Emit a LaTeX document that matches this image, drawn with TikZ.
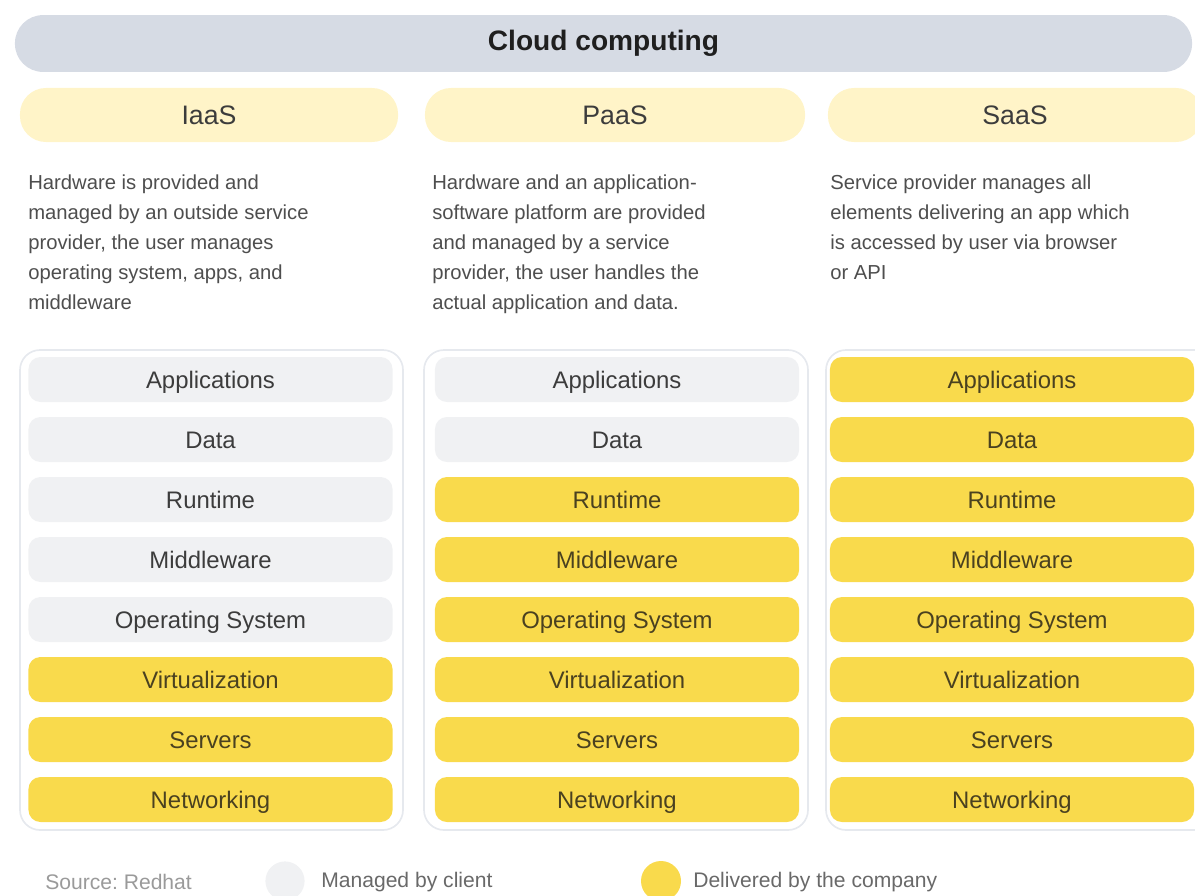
\documentclass[tikz,border=0pt]{standalone}
\usepackage{fontspec}
\setmainfont{Liberation Sans}
\usepackage{xcolor}
\usepackage{tikz}
\definecolor{CCBanner}{HTML}{D6DBE4}
\definecolor{CCHead}{HTML}{FFF4C8}
\definecolor{CCGrey}{HTML}{F0F1F3}
\definecolor{CCYellow}{HTML}{F9DA4C}
\definecolor{CCFrame}{HTML}{E6E9EE}
\definecolor{CCInk}{HTML}{3C3C3C}
\definecolor{CCOlive}{HTML}{4A4120}
\definecolor{CCSoft}{HTML}{4E4E4E}
\definecolor{CCFaint}{HTML}{9A9A9A}

\tikzset{
  layer/.style={rounded corners=0.3cm, minimum width=9.1cm, minimum height=1.125cm,
    inner sep=0pt, text height=12.2pt, text depth=0pt, font=\fontsize{17}{20}\selectfont},
  client/.style={layer, fill=CCGrey, text=CCInk},
  company/.style={layer, fill=CCYellow, text=CCOlive},
  model/.style={fill=CCHead, rounded corners=0.65cm, minimum height=1.35cm,
    inner sep=0pt, text height=13.6pt, text depth=0pt, text=CCInk, font=\fontsize{19}{22}\selectfont},
  blurb/.style={anchor=north west, inner sep=0pt, align=left, text=CCSoft,
    font=\fontsize{14.4}{21.3}\selectfont},
  keytext/.style={anchor=west, inner sep=0pt, text=CCSoft!85, font=\fontsize{15}{18}\selectfont},
  frame/.style={draw=CCFrame, line width=1.2pt, rounded corners=0.5cm}
}

\begin{document}
\frenchspacing
\begin{tikzpicture}[x=0.025cm,y=-0.025cm]
\path[use as bounding box] (0,0) rectangle (1195,895);
% title banner
\node[fill=CCBanner, rounded corners=0.7cm, minimum width=29.42cm, minimum height=1.42cm,
  inner sep=0pt, font=\fontsize{20}{24}\selectfont\bfseries, text=black!88] (title) at (603.5,43.5) {Cloud computing};
% service models
\node[model, minimum width=9.45cm] (iaas) at (209,115) {IaaS};
\node[model, minimum width=9.5cm] (paas) at (615,115) {PaaS};
\node[model, minimum width=9.35cm] (saas) at (1015,115) {SaaS};
\node[blurb] (iaasText) at (28,175) {Hardware is provided and\\managed by an outside service\\provider, the user manages\\operating system, apps, and\\middleware};
\node[blurb] (paasText) at (432,175) {Hardware and an application-\\software platform are provided\\and managed by a service\\provider, the user handles the\\actual application and data.};
\node[blurb] (saasText) at (830,175) {Service provider manages all\\elements delivering an app which\\is accessed by user via browser\\or API};
% stacks
\draw[frame] (20,350) rectangle (403,830);
\draw[frame] (424,350) rectangle (808,830);
\draw[frame] (826,350) rectangle (1215,830);
\node[client] (iaasApp) at (210.5,379.5) {Applications};
\node[client] (iaasData) at (210.5,439.5) {Data};
\node[client] (iaasRun) at (210.5,499.5) {Runtime};
\node[client] (iaasMid) at (210.5,559.5) {Middleware};
\node[client] (iaasOS) at (210.5,619.5) {Operating System};
\node[company] (iaasVirt) at (210.5,679.5) {Virtualization};
\node[company] (iaasSrv) at (210.5,739.5) {Servers};
\node[company] (iaasNet) at (210.5,799.5) {Networking};
\node[client] (paasApp) at (617,379.5) {Applications};
\node[client] (paasData) at (617,439.5) {Data};
\node[company] (paasRun) at (617,499.5) {Runtime};
\node[company] (paasMid) at (617,559.5) {Middleware};
\node[company] (paasOS) at (617,619.5) {Operating System};
\node[company] (paasVirt) at (617,679.5) {Virtualization};
\node[company] (paasSrv) at (617,739.5) {Servers};
\node[company] (paasNet) at (617,799.5) {Networking};
\node[company] (saasApp) at (1012,379.5) {Applications};
\node[company] (saasData) at (1012,439.5) {Data};
\node[company] (saasRun) at (1012,499.5) {Runtime};
\node[company] (saasMid) at (1012,559.5) {Middleware};
\node[company] (saasOS) at (1012,619.5) {Operating System};
\node[company] (saasVirt) at (1012,679.5) {Virtualization};
\node[company] (saasSrv) at (1012,739.5) {Servers};
\node[company] (saasNet) at (1012,799.5) {Networking};
% legend
\node[keytext, text=CCFaint] (source) at (45,882) {Source: Redhat};
\node[circle, fill=CCGrey, minimum size=0.98cm, inner sep=0pt] (keyClient) at (285,881) {};
\node[keytext] (keyClientText) at (321,882) {Managed by client};
\node[circle, fill=CCYellow, minimum size=1cm, inner sep=0pt] (keyCompany) at (661,881) {};
\node[keytext] (keyCompanyText) at (693,882) {Delivered by the company};
\end{tikzpicture}
\end{document}
